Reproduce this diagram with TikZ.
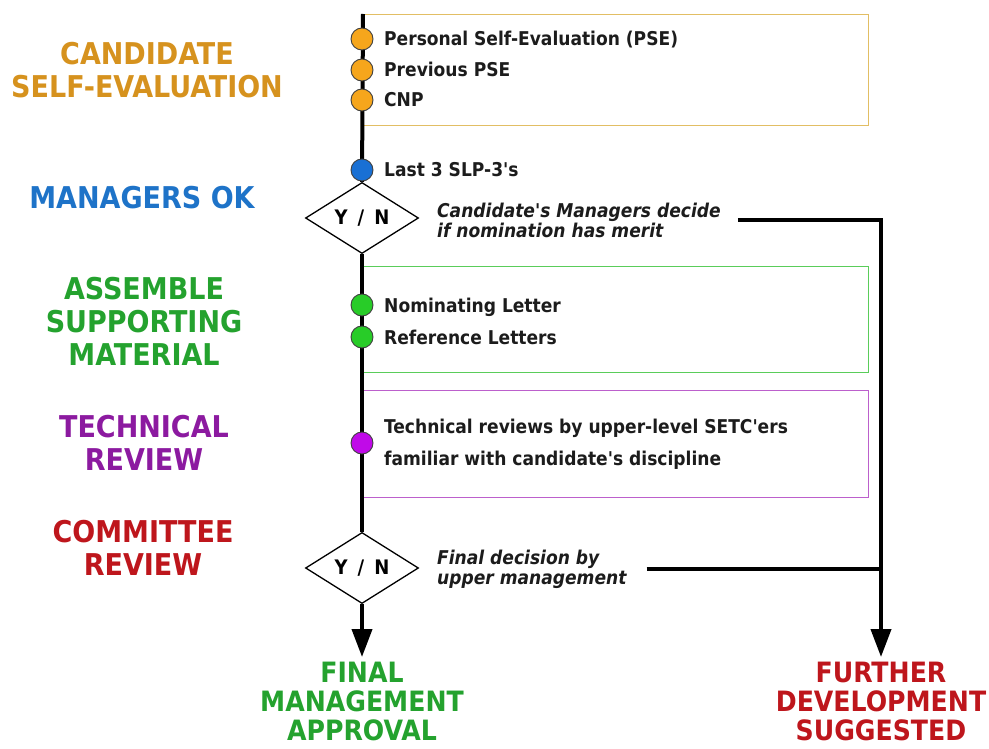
\documentclass[tikz,border=0pt]{standalone}
\usepackage{fontspec}
\setmainfont{DejaVu Sans Condensed}[Ligatures=TeXOff]
\usetikzlibrary{shapes.geometric,arrows.meta}

\definecolor{cOrangeT}{RGB}{214,146,30}
\definecolor{cOrangeD}{RGB}{246,166,28}
\definecolor{cOrangeB}{RGB}{226,190,100}
\definecolor{cBlueT}{RGB}{30,115,200}
\definecolor{cBlueD}{RGB}{25,112,212}
\definecolor{cGreenT}{RGB}{36,162,46}
\definecolor{cGreenD}{RGB}{40,204,40}
\definecolor{cGreenB}{RGB}{90,205,90}
\definecolor{cPurpleT}{RGB}{140,26,160}
\definecolor{cPurpleD}{RGB}{192,10,232}
\definecolor{cPurpleB}{RGB}{188,96,204}
\definecolor{cRedT}{RGB}{190,22,28}
\definecolor{cInk}{RGB}{28,28,28}

\tikzset{
  title/.style={font=\bfseries\fontsize{30}{33}\selectfont, align=center, inner sep=0pt},
  outcome/.style={title, anchor=north, font=\bfseries\fontsize{28}{29}\selectfont},
  item/.style={font=\bfseries\fontsize{19}{32}\selectfont, text=cInk, inner sep=0pt, align=left},
  note/.style={font=\bfseries\itshape\fontsize{19}{20}\selectfont, text=cInk, inner sep=0pt, align=left, anchor=west},
  stagebox/.style={rectangle, line width=1.4pt, minimum width=506pt, anchor=north west, inner sep=0pt},
  dot/.style={circle, minimum size=22pt, inner sep=0pt, draw=black!75, line width=0.9pt},
  yn/.style={diamond, draw=black, line width=1.3pt, fill=white, minimum width=113pt,
             minimum height=55pt, inner sep=0pt, font=\bfseries\fontsize{20}{22}\selectfont},
  spine/.style={line width=4pt, black},
  flow/.style={spine, -{Triangle[width=20pt,length=28pt]}}
}
\newcommand{\ynsep}{\hspace{0.5em}/\hspace{0.5em}}

\begin{document}
\begin{tikzpicture}[x=1pt,y=-1pt]
\useasboundingbox (0,0) rectangle (989,749);

% stage frames
\node[stagebox, draw=cOrangeB, minimum height=111pt] (boxSelf) at (362,14) {};
\node[stagebox, draw=cGreenB, minimum height=106pt] (boxSupp) at (362,266) {};
\node[stagebox, draw=cPurpleB, minimum height=107pt] (boxTech) at (362,390) {};

% stage titles
\node[title, text=cOrangeT] (tSelf) at (147,70) {CANDIDATE\\SELF-EVALUATION};
\node[title, text=cBlueT] (tMgr) at (142,198) {MANAGERS OK};
\node[title, text=cGreenT] (tSupp) at (144,321) {ASSEMBLE\\SUPPORTING\\MATERIAL};
\node[title, text=cPurpleT] (tTech) at (144,443) {TECHNICAL\\REVIEW};
\node[title, text=cRedT] (tComm) at (143,548) {COMMITTEE\\REVIEW};

% items
\node[item, anchor=base west] (iPSE) at (384,46) {Personal Self-Evaluation (PSE)};
\node[item, anchor=base west] (iPrev) at (384,77) {Previous PSE};
\node[item, anchor=base west] (iCNP) at (384,107) {CNP};
\node[item, anchor=base west] (iSLP) at (384,177) {Last 3 SLP-3's};
\node[item, anchor=base west] (iNom) at (384,312) {Nominating Letter};
\node[item, anchor=base west] (iRef) at (384,344) {Reference Letters};
\node[item, anchor=west] (iTech) at (384,444) {Technical reviews by upper-level SETC'ers\\familiar with candidate's discipline};

% decisions
\node[yn] (dMgr) at (362,218) {Y\ynsep N};
\node[yn] (dComm) at (362,568) {Y\ynsep N};
\node[note] (nMgr) at (437,220) {Candidate's Managers decide\\if nomination has merit};
\node[note] (nComm) at (437,569) {Final decision by\\upper management};

% outcomes
\node[outcome, text=cGreenT] (oFinal) at (362,662) {FINAL\\MANAGEMENT\\APPROVAL};
\node[outcome, text=cRedT] (oFurther) at (881,662) {FURTHER\\DEVELOPMENT\\SUGGESTED};

% main flow
\coordinate (start) at (363,14);
\draw[spine] (start) -- (dMgr.north);
\draw[spine] (dMgr.south) -- (dComm.north);
\draw[flow] (dComm.south) -- ([yshift=5pt]oFinal.north);

% rejection branches
\draw[flow] ([xshift=17pt]nMgr.east) -| ([yshift=5pt]oFurther.north);
\draw[spine] ([xshift=20pt]nComm.east) -- (nComm.east -| oFurther.north);

% milestones
\node[dot, fill=cOrangeD] (dPSE) at (362,39) {};
\node[dot, fill=cOrangeD] (dPrev) at (362,70) {};
\node[dot, fill=cOrangeD] (dCNP) at (362,100) {};
\node[dot, fill=cBlueD] (dSLP) at (362,170) {};
\node[dot, fill=cGreenD] (dNom) at (362,305) {};
\node[dot, fill=cGreenD] (dRef) at (362,337) {};
\node[dot, fill=cPurpleD] (dTech) at (362,443) {};
\end{tikzpicture}
\end{document}
